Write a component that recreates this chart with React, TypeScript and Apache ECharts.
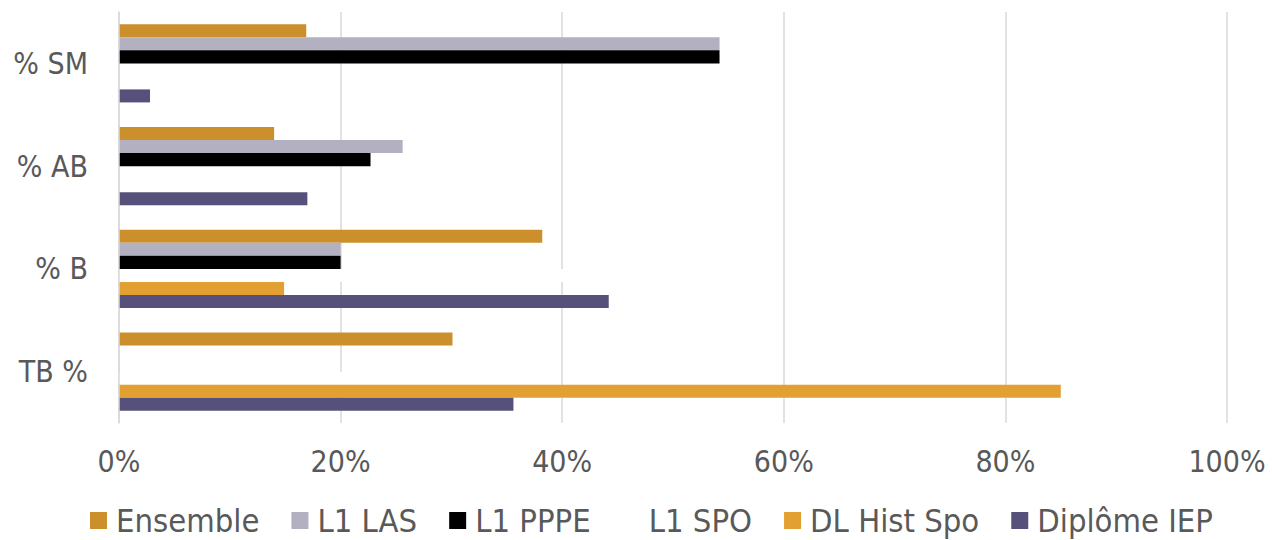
import React, { useEffect, useRef } from "react";
import * as echarts from "echarts";

const categories = ["TB %", "% B", "% AB", "% SM"];
const seriesNames = ["Ensemble", "L1 LAS", "L1 PPPE", "L1 SPO", "DL Hist Spo", "Diplôme IEP"];
const ensemble = [30.1, 38.2, 14.0, 16.9];
const l1Las = [0, 20.0, 25.6, 54.2];
const l1Pppe = [0, 20.0, 22.7, 54.2];
const l1Spo = [30, 50, 0, 0];
const dlHistSpo = [85.0, 14.9, 0, 0];
const diplomeIep = [35.6, 44.2, 17.0, 2.8];
const xTicks = [0, 20, 40, 60, 80, 100];
const colors = ["#CB902B", "#B3B1C1", "#000000", "#FFFFFF", "#E1A031", "#56517A"];

const FONT = "'DejaVu Sans Condensed', 'DejaVu Sans', sans-serif";

export default function App() {
  const ref = useRef<HTMLDivElement>(null);
  useEffect(() => {
    if (!ref.current) return;
    const chart = echarts.init(ref.current, null, { renderer: "svg" });
    const dataSets = [ensemble, l1Las, l1Pppe, l1Spo, dlHistSpo, diplomeIep];
    chart.setOption({
      animation: false,
      backgroundColor: "#FFFFFF",
      grid: { left: 119, right: 45, top: 12, bottom: 117, containLabel: false },
      legend: {
        bottom: -2,
        left: 85,
        itemWidth: 17,
        itemHeight: 17,
        itemGap: 32,
        icon: "rect",
        data: seriesNames,
        textStyle: { fontFamily: FONT, fontSize: 32.5, color: "#595959", padding: [0, 0, 0, 4] },
      },
      xAxis: {
        type: "value",
        min: xTicks[0],
        max: xTicks[xTicks.length - 1],
        interval: 20,
        axisLine: { show: false },
        axisTick: { show: false },
        splitLine: { show: true, lineStyle: { color: "#D9D9D9", width: 1.5 } },
        axisLabel: {
          formatter: "{value}%",
          fontFamily: FONT,
          fontSize: 30,
          color: "#595959",
          margin: 23,
        },
      },
      yAxis: {
        type: "category",
        z: 5,
        data: categories,
        axisLine: { show: true, lineStyle: { color: "#D9D9D9", width: 1.5 } },
        axisTick: { show: false },
        axisLabel: { fontFamily: FONT, fontSize: 30, color: "#595959", margin: 31 },
      },
      series: seriesNames.map((name, i) => ({
        name,
        type: "bar",
        data: dataSets[i],
        barGap: "0%",
        barCategoryGap: "24%",
        itemStyle: { color: colors[i] },
      })),
    });
    return () => chart.dispose();
  }, []);
  return (
    <div
      ref={ref}
      style={{ position: "fixed", left: 0, top: 0, width: 1272, height: 540 }}
    />
  );
}
